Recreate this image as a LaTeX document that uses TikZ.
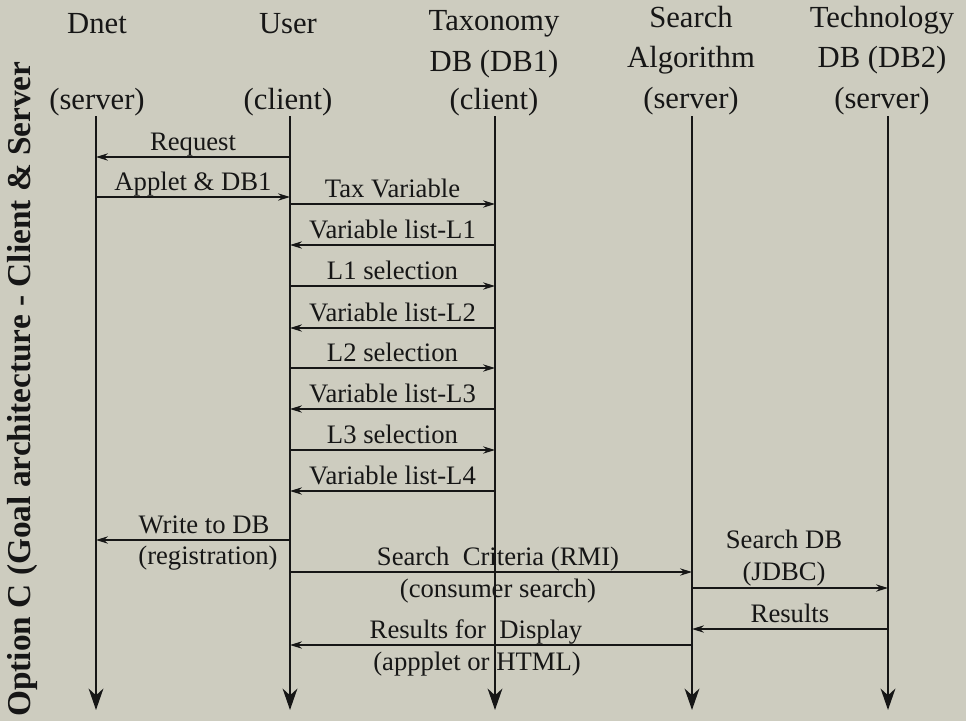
\documentclass[tikz,border=0pt]{standalone}
\usepackage{fontspec}
\setmainfont{Liberation Serif}
\usetikzlibrary{arrows.meta}
\definecolor{bg}{RGB}{205,204,191}
\definecolor{ink}{RGB}{22,22,22}
\begin{document}
\begin{tikzpicture}[x=0.75pt,y=-0.75pt,
  hdr/.style={font=\fontsize{23}{28}\selectfont, text=ink, anchor=base, inner sep=0pt},
  lbl/.style={font=\fontsize{20}{24}\selectfont, text=ink, anchor=base, inner sep=0pt},
  ttl/.style={font=\fontsize{25}{30}\selectfont\bfseries, text=ink, anchor=base, inner sep=0pt, rotate=90},
  life/.style={draw=ink, line width=2pt, -{Stealth[length=16pt,width=11pt,inset=5pt]}},
  msg/.style={draw=ink, line width=1.1pt, -{Stealth[length=9pt,width=5.5pt,inset=3pt]}},
  up/.style={midway, lbl, yshift=5pt}]
\useasboundingbox (0,0) rectangle (966,721);
\fill[bg] (0,0) rectangle (966,721);

% title
\node[ttl] (title) at (31,389) {Option C (Goal architecture - Client \& Server};

% headers
\node[hdr] (h1a) at (97,33) {Dnet};
\node[hdr] (h1c) at (97,109) {(server)};
\node[hdr] (h2a) at (288,33) {User};
\node[hdr] (h2c) at (288,109) {(client)};
\node[hdr] (h3a) at (494,31) {Taxonomy};
\node[hdr] (h3b) at (494,71) {DB (DB1)};
\node[hdr] (h3c) at (494,109) {(client)};
\node[hdr] (h4a) at (691,27) {Search};
\node[hdr] (h4b) at (691,67) {Algorithm};
\node[hdr] (h4c) at (691,108) {(server)};
\node[hdr] (h5a) at (882,27) {Technology};
\node[hdr] (h5b) at (882,67) {DB (DB2)};
\node[hdr] (h5c) at (882,108) {(server)};

% lifeline ends
\coordinate (ldnet) at (96,116);   \coordinate (bdnet) at (96,710);
\coordinate (luser) at (290,116);  \coordinate (buser) at (290,710);
\coordinate (ltax) at (495,116);   \coordinate (btax) at (495,710);
\coordinate (lsrch) at (692,116);  \coordinate (bsrch) at (692,710);
\coordinate (ltech) at (888,116);  \coordinate (btech) at (888,710);

% message rows
\coordinate (r1) at (0,157);
\coordinate (r2) at (0,197);
\coordinate (r3) at (0,204);
\coordinate (r4) at (0,245);
\coordinate (r5) at (0,286);
\coordinate (r6) at (0,328);
\coordinate (r7) at (0,368);
\coordinate (r8) at (0,409);
\coordinate (r9) at (0,450);
\coordinate (r10) at (0,491);
\coordinate (r11) at (0,540);
\coordinate (r12) at (0,572);
\coordinate (r13) at (0,588);
\coordinate (r14) at (0,629);
\coordinate (r15) at (0,645);

% two-line labels
\node[lbl] (m11a) at (204,533) {Write to DB};
\node[lbl] (m11b) at (208,564) {(registration)};
\node[lbl] (m12a) at (498,565) {Search\ \ Criteria (RMI)};
\node[lbl] (m12b) at (498,597) {(consumer search)};
\node[lbl] (m13a) at (784,548) {Search DB};
\node[lbl] (m13b) at (784,580) {(JDBC)};
\node[lbl] (m15a) at (476,638) {Results for\ \ Display};
\node[lbl] (m15b) at (477,670) {(appplet or HTML)};

% messages
\draw[msg] (luser |- r1) -- node[up] (m1) {Request} (ldnet |- r1);
\draw[msg] (ldnet |- r2) -- node[up] (m2) {Applet \& DB1} (luser |- r2);
\draw[msg] (luser |- r3) -- node[up] (m3) {Tax Variable} (ltax |- r3);
\draw[msg] (ltax |- r4) -- node[up] (m4) {Variable list-L1} (luser |- r4);
\draw[msg] (luser |- r5) -- node[up] (m5) {L1 selection} (ltax |- r5);
\draw[msg] (ltax |- r6) -- node[up] (m6) {Variable list-L2} (luser |- r6);
\draw[msg] (luser |- r7) -- node[up] (m7) {L2 selection} (ltax |- r7);
\draw[msg] (ltax |- r8) -- node[up] (m8) {Variable list-L3} (luser |- r8);
\draw[msg] (luser |- r9) -- node[up] (m9) {L3 selection} (ltax |- r9);
\draw[msg] (ltax |- r10) -- node[up] (m10) {Variable list-L4} (luser |- r10);
\draw[msg] (luser |- r11) -- (ldnet |- r11);
\draw[msg] (luser |- r12) -- (lsrch |- r12);
\draw[msg] (lsrch |- r13) -- (ltech |- r13);
\draw[msg] (ltech |- r14) -- node[up] (m14) {Results} (lsrch |- r14);
\draw[msg] (lsrch |- r15) -- (luser |- r15);

% lifelines
\draw[life] (ldnet) -- (bdnet);
\draw[life] (luser) -- (buser);
\draw[life] (ltax) -- (btax);
\draw[life] (lsrch) -- (bsrch);
\draw[life] (ltech) -- (btech);
\end{tikzpicture}
\end{document}
